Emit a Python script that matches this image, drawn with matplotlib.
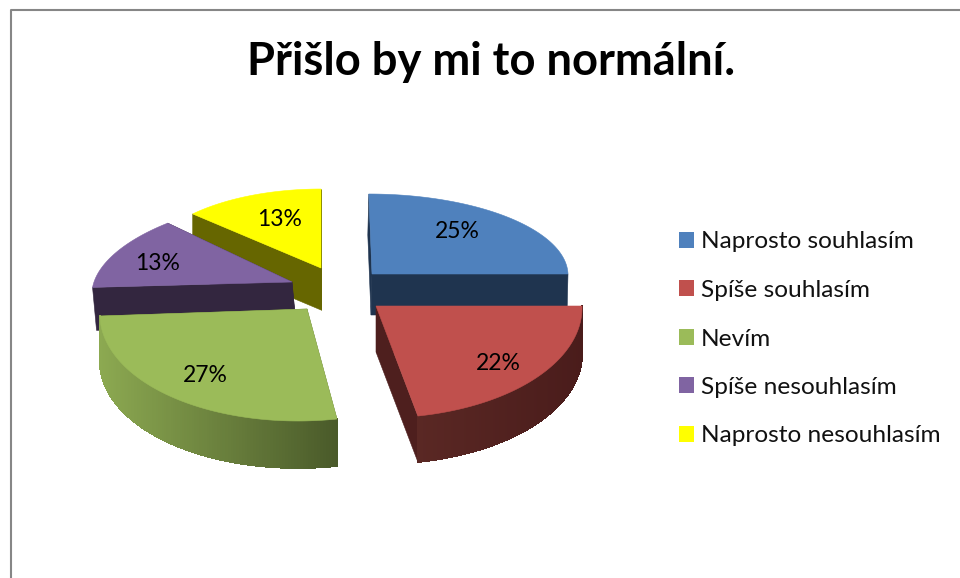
import numpy as np
import matplotlib
matplotlib.use("Agg")
import matplotlib.pyplot as plt
from matplotlib.patches import Patch, Polygon
from matplotlib.collections import PolyCollection
from matplotlib.colors import to_rgb

# donnees du graphique
title = "Přišlo by mi to normální."
categories = ["Naprosto souhlasím", "Spíše souhlasím", "Nevím", "Spíše nesouhlasím", "Naprosto nesouhlasím"]
values = [25, 22, 27, 13, 13]
colors = ["#4F81BD", "#C0504D", "#9BBB59", "#8064A2", "#FFFF00"]

# geometrie de chaque part en pixels : cx, cy, rx, ry, skew, profondeur, decalage x du bas
geom = [
    (372, 274, 196, 80, -0.04, 41, -1),
    (376, 306, 206, 112, -0.03, 46, 0),
    (307, 309, 207, 112, 0.08, 47, 0),
    (292, 282, 198, 86, 0.34, 43, 4),
    (321, 268, 176, 79, 0.0, 42, 0),
]
# couleur des faces radiales et degrade de la face exterieure
radial = ["#1F344F", "#4E1F1E", "#5A6E33", "#33263F", "#666600"]
outer = [("#1F344F", "#1F344F"), ("#5A2824", "#4A1C1B"), ("#8CA951", "#4A5A2A"),
         ("#33263F", "#33263F"), ("#666600", "#666600")]
label_pos = [(457, 231), (498, 363), (205, 376), (158, 264), (280, 219)]

plt.rcParams["font.family"] = ["Lato", "DejaVu Sans"]
fig = plt.figure(figsize=(9.6, 5.78), dpi=100)
ax = fig.add_axes([0, 0, 1, 1])
ax.set_xlim(0, 960)
ax.set_ylim(578, 0)
ax.axis("off")

# cadre gris en haut et a gauche
ax.plot([11, 11, 960], [578, 10, 10], color="#868686", lw=1.5, zorder=1)

# angles depuis les valeurs (sens horaire depuis midi)
cum = np.cumsum([0] + values) / sum(values) * 360

def arc(i, n=120):
    cx, cy, rx, ry, k, d, dx = geom[i]
    t = np.radians(np.linspace(cum[i], cum[i + 1], n))
    x = cx + rx * np.sin(t) + k * ry * np.cos(t)
    y = cy - ry * np.cos(t)
    return x, y

def quad(p, q, d, dx):
    return [p, q, (q[0] + dx, q[1] + d), (p[0] + dx, p[1] + d)]

# ordre de dessin : du fond vers l'avant
for z, i in enumerate([4, 0, 3, 2, 1]):
    cx, cy, rx, ry, k, d, dx = geom[i]
    x, y = arc(i)
    apex = (cx, cy)
    first = (x[0], y[0])
    last = (x[-1], y[-1])
    zo = 2 + z
    # faces radiales
    for pt in [first, last]:
        ax.add_patch(Polygon(quad(apex, pt, d, dx), closed=True, fc=radial[i], ec=radial[i], lw=0.4, zorder=zo))
    # face exterieure en degrade
    c0 = np.array(to_rgb(outer[i][0]))
    c1 = np.array(to_rgb(outer[i][1]))
    quads = []
    cols = []
    for j in range(len(x) - 1):
        quads.append(quad((x[j], y[j]), (x[j + 1], y[j + 1]), d, dx))
        s = (x[j] - x.min()) / (x.max() - x.min())
        cols.append(c0 + (c1 - c0) * s)
    if i in (1, 2):
        ax.add_collection(PolyCollection(quads, facecolors=cols, edgecolors=cols, linewidths=0.6,
                                         antialiaseds=False, zorder=zo))
    # dessus
    pts = [apex] + list(zip(x, y))
    ax.add_patch(Polygon(pts, closed=True, fc=colors[i], ec=colors[i], lw=0.4, zorder=zo + 0.5))

for (lx, ly), v in zip(label_pos, values):
    ax.text(lx, ly, f"{v}%", ha="center", va="center", fontsize=16.5, color="black", zorder=20)

ax.text(491, 62, title, ha="center", va="center", fontsize=32.7, fontweight="bold", color="black", zorder=20)

handles = [Patch(facecolor=c, edgecolor="none", label=n) for c, n in zip(colors, categories)]
ax.legend(handles=handles, loc="center left", bbox_to_anchor=(679 / 960, 1 - 339 / 578),
          frameon=False, fontsize=17.6, handlelength=0.62, handleheight=0.62,
          handletextpad=0.29, labelspacing=1.125, borderpad=0, borderaxespad=0, labelcolor="#111111")

plt.savefig("out.png", dpi=100)
